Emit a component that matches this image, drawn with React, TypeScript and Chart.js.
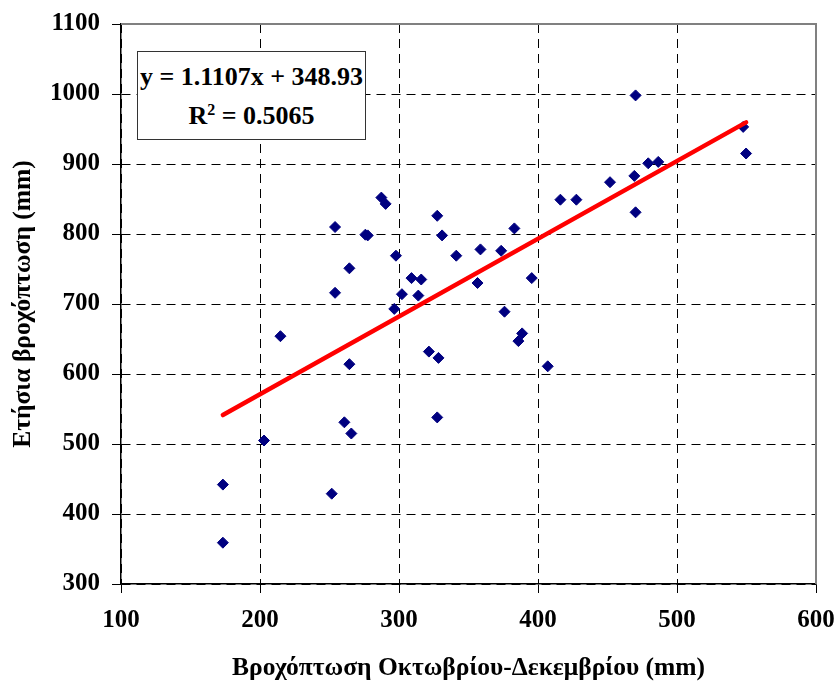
import React, { useEffect, useRef } from "react";
import { Chart, registerables } from "chart.js";

Chart.register(...registerables);

// Rainfall Oct-Dec (mm)
const octDecRain: number[] = [
  173.3, 173.3, 202.9, 214.7, 251.6, 254.0, 254.0, 260.7, 265.7, 264.3,
  264.3, 275.8, 277.5, 287.3, 290.4, 296.6, 297.8, 302.1, 309.0, 313.9,
  316.0, 321.5, 327.5, 328.4, 327.5, 331.0, 341.2, 356.5, 358.6, 373.5,
  375.9, 383.0, 385.9, 388.6, 395.5, 407.0, 416.1, 427.6, 451.8, 469.3,
  470.2, 470.2, 479.3, 486.5, 547.6, 549.7,
];
// Annual rainfall (mm)
const annualRain: number[] = [
  359, 442, 505, 654, 429, 716, 810, 531, 515, 614,
  751, 799, 798, 852, 843, 693, 769, 714, 737, 712,
  735, 632, 826, 623, 538, 798, 769, 730, 778, 776,
  689, 808, 647, 658, 737, 611, 849, 849, 874, 883,
  831, 998, 901, 903, 953, 915,
];
// Linear trend end points
const trendX: number[] = [173.3, 549.7];
const trendY: number[] = [541.4, 959.5];

const equationText = "y = 1.1107x + 348.93";
const r2Text = "0.5065";
const xTitle = "Βροχόπτωση Οκτωβρίου-Δεκεμβρίου (mm)";
const yTitle = "Ετήσια βροχόπτωση (mm)";

const FONT = "'Liberation Serif', 'Times New Roman', serif";

const frameBorder = {
  id: "frameBorder",
  beforeDatasetsDraw(chart: any) {
    const { ctx, chartArea } = chart;
    ctx.save();
    ctx.strokeStyle = "#808080";
    ctx.lineWidth = 2;
    ctx.beginPath();
    ctx.moveTo(chartArea.left, chartArea.top);
    ctx.lineTo(chartArea.right, chartArea.top);
    ctx.lineTo(chartArea.right, chartArea.bottom);
    ctx.stroke();
    ctx.restore();
  },
};

export default function App() {
  const ref = useRef<HTMLCanvasElement | null>(null);

  useEffect(() => {
    if (!ref.current) return;
    const points = octDecRain.map((x, i) => ({ x, y: annualRain[i] }));
    const trend = trendX.map((x, i) => ({ x, y: trendY[i] }));
    const chart = new Chart(ref.current, {
      type: "scatter",
      data: {
        datasets: [
          {
            label: "trend",
            data: trend,
            showLine: true,
            borderColor: "#FF0000",
            borderWidth: 4.5,
            pointRadius: 0,
            borderCapStyle: "round",
          } as any,
          {
            label: "data",
            data: points,
            pointStyle: "rectRot",
            pointRadius: 5.5,
            backgroundColor: "#000080",
            borderColor: "#000080",
            borderWidth: 1,
          },
        ],
      },
      options: {
        responsive: false,
        animation: false,
        layout: { padding: { top: 24, right: 22, left: 0, bottom: 0 } },
        plugins: {
          legend: { display: false },
          tooltip: { enabled: false },
        },
        scales: {
          x: {
            type: "linear",
            min: 100,
            max: 600,
            ticks: {
              stepSize: 100,
              padding: 13,
              color: "#000",
              font: { family: FONT, size: 25, weight: "bold" },
              callback: (v: any) => String(v),
            },
            grid: {
              color: "#000",
              lineWidth: 1,
              tickLength: 9,
              tickColor: "#000",
            },
            border: { display: true, color: "#000", width: 1.5, dash: [9, 6] },
            title: {
              display: true,
              text: xTitle,
              color: "#000",
              font: { family: FONT, size: 25.5, weight: "bold" },
              padding: { top: 0, bottom: 0 },
            },
            afterFit: (s: any) => {
              s.height = 100;
              s.paddingLeft = 0;
              s.paddingRight = 0;
            },
          },
          y: {
            type: "linear",
            min: 300,
            max: 1100,
            ticks: {
              stepSize: 100,
              padding: 12,
              color: "#000",
              font: { family: FONT, size: 25, weight: "bold" },
              callback: (v: any) => String(v),
            },
            grid: {
              color: "#000",
              lineWidth: 1,
              tickLength: 9,
              tickColor: "#000",
            },
            border: { display: true, color: "#000", width: 1.5, dash: [9, 6] },
            title: {
              display: true,
              text: yTitle,
              color: "#000",
              font: { family: FONT, size: 25.5, weight: "bold" },
              padding: { top: 8, bottom: 0 },
            },
            afterFit: (s: any) => {
              s.width = 121;
              s.paddingTop = 0;
              s.paddingBottom = 0;
            },
          },
        },
      },
      plugins: [frameBorder],
    } as any);
    return () => chart.destroy();
  }, []);

  return (
    <div style={{ position: "fixed", left: 0, top: 0, width: 838, height: 684, background: "#fff" }}>
      <canvas ref={ref} width={838} height={684} style={{ display: "block" }} />
      <div
        style={{
          position: "absolute",
          left: 137,
          top: 51,
          width: 227,
          height: 87,
          border: "1px solid #333",
          background: "#fff",
          fontFamily: FONT,
          fontWeight: "bold",
          fontSize: 26,
          lineHeight: "39px",
          textAlign: "center",
          display: "flex",
          flexDirection: "column",
          justifyContent: "center",
          color: "#000",
        }}
      >
        <div>{equationText}</div>
        <div>
          R<sup style={{ fontSize: 16, lineHeight: 0, verticalAlign: "9px" }}>2</sup> = {r2Text}
        </div>
      </div>
    </div>
  );
}
